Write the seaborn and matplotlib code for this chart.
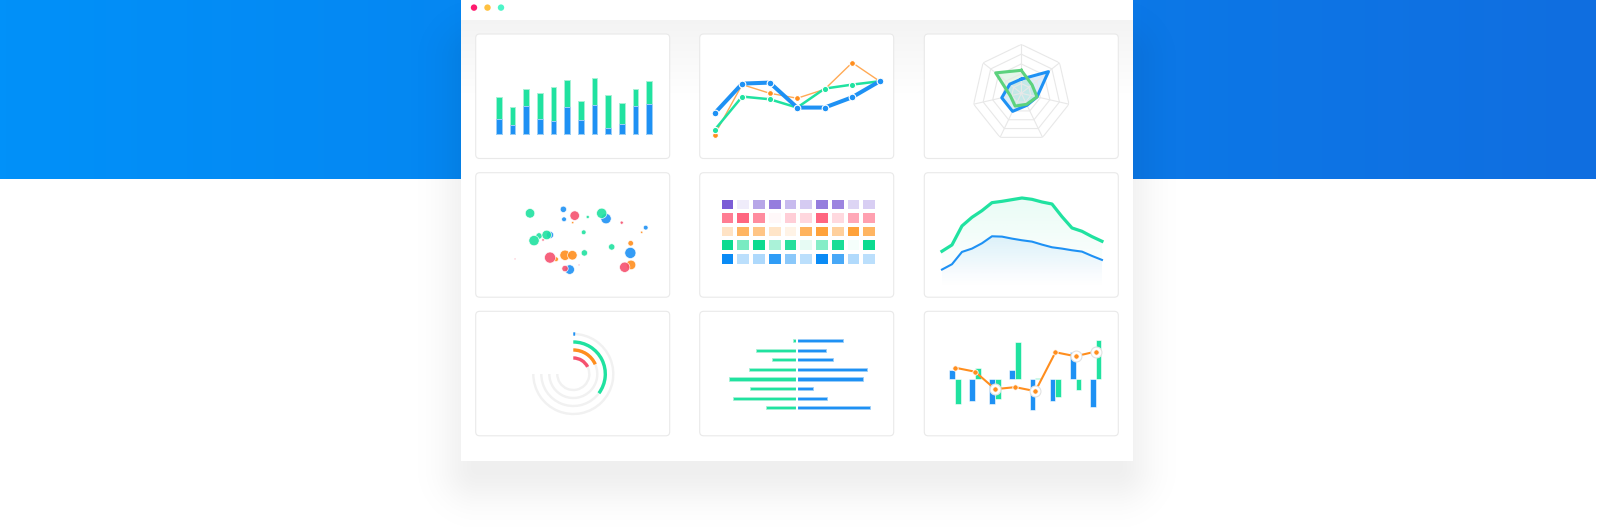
import numpy as np
import matplotlib.pyplot as plt
import pandas as pd
import seaborn as sns
from matplotlib.patches import Rectangle, FancyBboxPatch, Circle
from matplotlib.colors import LinearSegmentedColormap, to_rgb

W, H = 1600, 527

BLUE = '#1E91F4'
GREEN = '#20E2A0'
ORANGE = '#FF8E1E'
RED = '#F5516F'
RADAR_GREEN = '#5CD27E'

# card 1: stacked bars
bar_labels = ['Jan', 'Feb', 'Mar', 'Apr', 'May', 'Jun', 'Jul', 'Aug', 'Sep', 'Oct', 'Nov', 'Dec']
bar_low = [46, 26, 84, 46, 39, 80, 41, 86, 19, 31, 83, 91]
bar_high = [65, 54, 52, 76, 101, 83, 59, 81, 99, 63, 52, 67]

# card 2: lines
line_steps = [0, 1, 2, 3, 4, 5, 6]
line_blue = [136, 225, 228, 153, 153, 184, 232]
line_green = [86, 186, 178, 153, 210, 222, 232]
line_orange = [72, 222, 196, 181, 208, 288, 232]

# card 3: radar (7 axes)
radar_blue = [0.29, 0.30, 0.41, 0.41, 0.27, 0.33, 0.71]
radar_green = [0.47, 0.67, 0.23, 0.29, 0.25, 0.33, 0.28]

# card 4: bubbles
bub_x = [168, 268, 270, 302, 296, 341, 396, 383, 443, 515, 503, 329, 228, 195, 218, 180,
         207, 413, 470, 469, 331, 246, 228, 273, 295, 123, 315, 287, 273, 471, 452]
bub_y = [130, 118, 148, 137, 158, 141, 146, 130, 158, 173, 187, 187, 195, 198, 195, 212,
         210, 231, 220, 249, 249, 268, 263, 256, 256, 267, 285, 299, 296, 285, 292]
bub_r = [12, 8, 6, 12, 3, 4, 13, 13, 4, 6, 3, 6, 9, 8, 12, 13,
         3, 8, 7, 14, 8, 6, 14, 13, 12, 2, 2, 12, 8, 12, 13]
bub_kind = ['g', 'b', 'b', 'r', 'o', 'g', 'b', 'g', 'r', 'b', 'o', 'g', 'b', 'g', 'g', 'g',
            'r', 'g', 'o', 'b', 'g', 'o', 'r', 'o', 'o', 'r', 'r', 'b', 'r', 'o', 'r']

# card 5: heatmap rows
heat_purple = [100, 12, 55, 80, 42, 32, 80, 75, 26, 30]
heat_red = [85, 100, 75, 5, 32, 26, 100, 25, 57, 62]
heat_orange = [30, 80, 62, 28, 13, 82, 100, 50, 100, 80]
heat_green = [100, 55, 100, 35, 88, 10, 50, 94, 4, 100]
heat_blue = [100, 28, 33, 85, 48, 28, 100, 75, 32, 28]
heat_colors = ['#7B5CD6', '#FF6680', '#FFA23B', '#0BDB90', '#0A8BF5']

# card 6: smooth areas
area_x = [60, 90, 120, 150, 180, 210, 240, 270, 300, 330, 360, 390, 420, 450, 480, 510, 540]
area_green = [138, 157, 214, 240, 260, 284, 288, 293, 298, 294, 286, 280, 242, 208, 198, 182, 168]
area_blue = [83, 99, 136, 146, 162, 183, 182, 176, 171, 167, 158, 150, 146, 141, 137, 124, 112]

# card 7: radial bars (outer -> inner), percent of full track
radial_vals = [1, 47, 24.5, 23.5]

# card 8: diverging bars
div_left = [10, 123, 75, 144, 202, 141, 192, 93]
div_right = [138, 89, 109, 212, 198, 50, 92, 219]

# card 9: bars + line
combo_pos = [0, 1, 2, 3, 4, 5, 6, 7]
combo_blue = [26, -66, -74, 28, -93, -64, 82, -84]
combo_green = [-75, 34, -60, 110, 4, -52, -33, 115]
combo_line = [34, 22, -30, -24, -36, 80, 68, 82]
combo_highlight = [False, False, True, False, True, False, True, True]


def frac(x0, y0, w, h):
    return [x0 / W, 1 - (y0 + h) / H, w / W, h / H]


fig = plt.figure(figsize=(16, 5.27), dpi=100)
bg = fig.add_axes([0, 0, 1, 1])

# banner
t = np.linspace(0, 1, 256)
c0, c1 = np.array(to_rgb('#0191F9')), np.array(to_rgb('#106EE0'))
bg.imshow((c0 + (c1 - c0) * t[:, None])[None, :, :], extent=(0, 1596, 179, 0), aspect='auto', zorder=0)

# window shadow
yy, xx = np.mgrid[0:H, 0:W] + 0.5
dx = np.maximum(np.maximum(478 - xx, xx - 1116), 0)
dy = np.maximum(np.maximum(yy - 468, 60 - yy), 0)
d = np.hypot(dx, dy)
shadow = np.zeros((H, W, 4))
shadow[..., 3] = 0.065 * np.exp(-(d / 36) ** 2)
bg.imshow(shadow, extent=(0, W, H, 0), aspect='auto', zorder=1)

# window
bg.add_patch(Rectangle((461, 0), 672, 461, facecolor='white', edgecolor='none', zorder=2))
g = np.linspace(0.955, 1.0, 100)
band = np.repeat(np.stack([g, g, g], axis=-1)[:, None, :], 2, axis=1)
bg.imshow(band, extent=(461, 1133, 100, 20), aspect='auto', zorder=2.5)
for cx, col in zip([474, 487.5, 501], ['#FF1A6E', '#FFC140', '#4DF5C8']):
    bg.add_patch(Circle((cx, 7.6), 3.2, facecolor=col, edgecolor='none', zorder=3))

card_x = [475.7, 699.7, 924.3]
card_y = [34, 172.7, 311.3]
card_w, card_h = 194, 124.5
for cy in card_y:
    for cx in card_x:
        bg.add_patch(FancyBboxPatch((cx, cy), card_w, card_h, boxstyle='round,pad=0,rounding_size=4',
                                    facecolor='white', edgecolor='#E9E9E9', linewidth=0.8, zorder=4))
bg.set_xlim(0, W)
bg.set_ylim(H, 0)
bg.axis('off')


def card_axes(col, row):
    ax = fig.add_axes(frac(card_x[col], card_y[row], card_w, card_h))
    ax.patch.set_alpha(0)
    return ax


# card 1
ax1 = card_axes(0, 0)
df1 = pd.DataFrame({'month': bar_labels, 'low': bar_low, 'total': np.add(bar_low, bar_high)})
sns.barplot(data=df1, x='month', y='total', color=GREEN, width=0.42, saturation=1, errorbar=None,
            edgecolor='#A6F2D6', linewidth=0.7, ax=ax1)
sns.barplot(data=df1, x='month', y='low', color=BLUE, width=0.42, saturation=1, errorbar=None,
            edgecolor='#9CCEF8', linewidth=0.7, ax=ax1)
ax1.set_xlim(-1.683, 12.51)
ax1.set_ylim(-74, 300)
ax1.axis('off')

# card 2
ax2 = card_axes(1, 0)
sns.lineplot(x=line_steps, y=line_orange, color='#FFAA55', lw=1.0, marker='o', markersize=4.2,
             markerfacecolor=ORANGE, markeredgecolor='white', markeredgewidth=0.8, ax=ax2)
sns.lineplot(x=line_steps, y=line_green, color=GREEN, lw=1.8, marker='o', markersize=4.5,
             markeredgecolor='white', markeredgewidth=0.8, ax=ax2)
sns.lineplot(x=line_steps, y=line_blue, color=BLUE, lw=2.9, marker='o', markersize=4.8,
             markeredgecolor='white', markeredgewidth=0.8, ax=ax2)
ax2.set_xlim(-0.545, 6.509)
ax2.set_ylim(0, 374)
ax2.axis('off')

# card 3: radar
axr = fig.add_axes(frac(1021.3 - 48.9, 93.3 - 48.9, 97.8, 97.8), projection='polar')
axr.patch.set_alpha(0)
axr.set_theta_offset(np.pi / 2)
theta = np.linspace(0, 2 * np.pi, 8)
for lv in [0.2, 0.4, 0.6, 0.8, 1.0]:
    axr.plot(theta, [lv] * 8, color='#E8E8E8', lw=0.8)
for a in theta[:-1]:
    axr.plot([a, a], [0, 1], color='#E8E8E8', lw=0.8)
for vals, col in [(radar_blue, BLUE), (radar_green, RADAR_GREEN)]:
    closed = vals + vals[:1]
    axr.fill(theta, closed, color=col, alpha=0.16, lw=0)
    axr.plot(theta, closed, color=col, lw=2.2)
axr.set_ylim(0, 1)
axr.axis('off')

# card 4: bubbles
ax4 = card_axes(0, 1)
df4 = pd.DataFrame({'x': bub_x, 'y': bub_y, 'kind': bub_kind, 'area': np.square(bub_r)})
sns.scatterplot(data=df4, x='x', y='y', hue='kind', size='area', sizes=(0, 64), size_norm=(0, 196),
                palette={'g': GREEN, 'b': BLUE, 'r': RED, 'o': ORANGE}, alpha=0.9,
                edgecolor='white', linewidth=0.5, legend=False, ax=ax4)
ax4.set_xlim(5, 587)
ax4.set_ylim(382, 8)
ax4.axis('off')

# card 5: heatmap
ax5 = fig.add_axes(frac(719.7, 197.8, 157.3, 67.7))
heat = np.array([heat_purple, heat_red, heat_orange, heat_green, heat_blue])
for i, base in enumerate(heat_colors):
    mask = np.ones_like(heat, dtype=bool)
    mask[i] = False
    cmap = LinearSegmentedColormap.from_list('row%d' % i, ['#FFFFFF', base])
    sns.heatmap(heat, mask=mask, cmap=cmap, vmin=0, vmax=100, cbar=False, linewidths=1.5,
                linecolor='white', xticklabels=False, yticklabels=False, ax=ax5)
ax5.axis('off')

# card 6: areas
ax6 = card_axes(2, 1)


def grad_fill(ax, x, y, color, a_top, y_top, y_bot):
    poly = ax.fill_between(x, y, 0, color='none', lw=0)
    rgba = np.zeros((100, 1, 4))
    rgba[..., :3] = to_rgb(color)
    rgba[:, 0, 3] = np.linspace(a_top, 0, 100)
    im = ax.imshow(rgba, extent=(x[0], x[-1], y_bot, y_top), aspect='auto', origin='upper', zorder=1)
    im.set_clip_path(poly.get_paths()[0], transform=ax.transData)


grad_fill(ax6, area_x, area_green, GREEN, 0.10, max(area_green), 60)
grad_fill(ax6, area_x, area_blue, BLUE, 0.11, max(area_blue), 30)
sns.lineplot(x=area_x, y=area_blue, color=BLUE, lw=1.5, ax=ax6)
sns.lineplot(x=area_x, y=area_green, color=GREEN, lw=2.3, ax=ax6)
ax6.set_xlim(7, 589)
ax6.set_ylim(0, 374)
ax6.axis('off')

# card 7: radial bars
axp = fig.add_axes(frac(573.3 - 44, 374 - 44, 88, 88), projection='polar')
axp.patch.set_alpha(0)
axp.set_theta_offset(np.pi / 2)
axp.set_theta_direction(-1)
track_r = [40, 32, 24, 16]
for r in track_r:
    axp.barh(r, 1.5 * np.pi, left=0, height=2.4, color='#F1F1F1')
for r, v, col in zip(track_r, radial_vals, [BLUE, GREEN, ORANGE, RED]):
    axp.barh(r, v / 100 * 1.5 * np.pi, left=0, height=3.4, color=col)
axp.set_ylim(0, 44)
axp.axis('off')

# card 8: diverging bars
ax8 = card_axes(1, 2)
rows = ['r%d' % i for i in range(len(div_left))]
sns.barplot(x=[-v for v in div_left], y=rows, orient='h', color=GREEN, width=0.32, saturation=1,
            errorbar=None, edgecolor='#A6F2D6', linewidth=0.6, ax=ax8)
sns.barplot(x=div_right, y=rows, orient='h', color=BLUE, width=0.32, saturation=1,
            errorbar=None, edgecolor='#9CCEF8', linewidth=0.6, ax=ax8)
ax8.vlines(0, -0.4, len(rows) - 0.6, color='white', lw=1.5)
ax8.set_xlim(-291, 291)
ax8.set_ylim(9.95, -3.095)
ax8.axis('off')

# card 9: bars + line
ax9 = card_axes(2, 2)
df9 = pd.DataFrame({'pos': combo_pos * 2, 'series': ['a'] * 8 + ['b'] * 8, 'value': combo_blue + combo_green})
sns.barplot(data=df9, x='pos', y='value', hue='series', palette=[BLUE, GREEN], native_scale=True,
            width=0.58, saturation=1, errorbar=None, legend=False, edgecolor='white', linewidth=0.4, ax=ax9)
sns.lineplot(x=combo_pos, y=combo_line, color=ORANGE, lw=1.5, ax=ax9)
hx = [p for p, h in zip(combo_pos, combo_highlight) if h]
hy = [v for v, h in zip(combo_line, combo_highlight) if h]
sns.scatterplot(x=hx, y=hy, s=62, color='white', edgecolor='#E2E2E2', linewidth=0.8, zorder=3, ax=ax9)
sns.scatterplot(x=combo_pos, y=combo_line, s=15, color=ORANGE, edgecolor='white', linewidth=0.6, zorder=4, ax=ax9)
ax9.set_xlim(-1.526, 8.128)
ax9.set_ylim(-169, 202)
ax9.axis('off')

plt.savefig('out.png', dpi=100)
